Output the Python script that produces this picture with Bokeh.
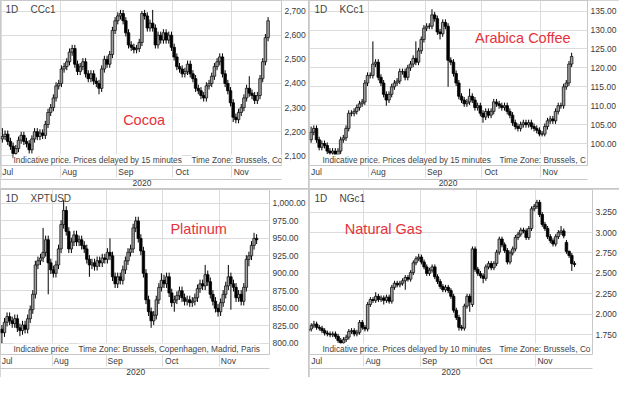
import numpy as np
from bokeh.plotting import figure
from bokeh.models import ColumnDataSource, FixedTicker, LinearAxis, NumeralTickFormatter, Label, Range1d
from bokeh.layouts import row, column
from bokeh.embed import file_html
from bokeh.resources import INLINE

# ---------------- data ----------------
month_names = ["Jul", "Aug", "Sep", "Oct", "Nov"]
futures_month_start = [0, 22, 43, 64, 86]   # trading-day index of first session of each month
spot_month_start = [0, 23, 44, 66, 88]

# Cocoa CCc1 (day 0 .. 99)
cocoa_first_day = 0
cocoa_open = [2170,2180,2190,2160,2140,2110,2130,2165,2185,2160,
              2150,2125,2170,2200,2180,2195,2185,2230,2280,2300,
              2340,2390,2400,2460,2470,2490,2530,2545,2480,2450,
              2470,2490,2440,2420,2440,2410,2400,2380,2460,2500,
              2480,2520,2620,2660,2680,2690,2660,2610,2560,2550,
              2540,2545,2570,2690,2680,2630,2650,2630,2560,2600,
              2580,2610,2580,2600,2550,2510,2470,2460,2440,2450,
              2480,2440,2420,2380,2370,2350,2340,2390,2400,2430,
              2470,2490,2510,2440,2400,2370,2320,2260,2250,2280,
              2300,2340,2380,2360,2350,2330,2350,2420,2490,2590]
cocoa_high = [2215,2205,2205,2175,2155,2145,2180,2200,2200,2175,
              2165,2185,2215,2215,2210,2210,2245,2295,2315,2355,
              2405,2415,2475,2485,2505,2545,2560,2560,2495,2485,
              2505,2505,2455,2455,2455,2425,2415,2475,2515,2515,
              2535,2635,2675,2695,2705,2705,2675,2625,2575,2565,
              2560,2585,2700,2705,2695,2665,2705,2645,2615,2615,
              2625,2625,2615,2615,2565,2525,2485,2475,2465,2495,
              2495,2455,2435,2395,2385,2365,2405,2415,2445,2485,
              2505,2525,2525,2455,2415,2385,2335,2275,2295,2315,
              2355,2395,2430,2375,2365,2365,2435,2505,2605,2675]
cocoa_low = [2155,2165,2145,2125,2090,2095,2115,2150,2145,2135,
             2110,2110,2155,2165,2165,2170,2170,2215,2265,2285,
             2325,2375,2385,2445,2455,2475,2515,2465,2435,2435,
             2455,2425,2405,2405,2395,2385,2355,2365,2445,2465,
             2465,2505,2605,2645,2665,2645,2595,2545,2535,2525,
             2525,2530,2555,2665,2615,2615,2615,2545,2545,2565,
             2565,2565,2565,2535,2495,2455,2445,2425,2425,2435,
             2425,2405,2365,2355,2335,2325,2325,2375,2385,2415,
             2455,2475,2425,2385,2355,2305,2240,2235,2235,2265,
             2285,2325,2345,2335,2315,2315,2335,2405,2475,2575]
cocoa_close = [2180,2190,2160,2140,2110,2130,2165,2185,2160,2150,
               2125,2170,2200,2180,2195,2185,2230,2280,2300,2340,
               2390,2400,2460,2470,2490,2530,2545,2480,2450,2470,
               2490,2440,2420,2440,2410,2400,2380,2460,2500,2480,
               2520,2620,2660,2680,2690,2660,2610,2560,2550,2540,
               2545,2570,2690,2680,2630,2650,2630,2560,2600,2580,
               2610,2580,2600,2550,2510,2470,2460,2440,2450,2480,
               2440,2420,2380,2370,2350,2340,2390,2400,2430,2470,
               2490,2510,2440,2400,2370,2320,2260,2250,2280,2300,
               2340,2380,2360,2350,2330,2350,2420,2490,2590,2660]

# Arabica coffee KCc1 (day 0 .. 97)
coffee_first_day = 0
coffee_open = [101,103,104,101,99,100,99.5,98,97.5,98,
               97,98,101,101.5,104,108,108,108.5,109.5,110.5,
               111,116,118,118,121,121.5,117.5,116,113,111.5,
               113,115,116,116.5,119,119,117.5,120,121,122.5,
               121.5,124.5,127.5,130.5,131,131,134,133,129.5,129,
               132,131,122,121.5,118.5,116,112.5,111.5,110.5,111,
               112.5,111.5,109.5,110,108,107,108.5,107.5,108.5,111,
               110.5,110,109.5,110,108.5,107.5,105.5,104.5,104,105,
               105.5,105,105.5,104.5,104,103.5,102.5,102.5,104.5,106,
               106.5,106,108.5,110,110,115,116,121]
coffee_high = [104.5,104.8,104.8,101.8,100.8,100.8,100.3,98.8,98.8,98.8,
               98.8,101.8,102.3,104.8,108.8,108.8,109.3,110.3,111.3,111.8,
               116.8,118.8,118.8,127,122.3,122.3,118.3,116.8,113.8,113.8,
               115.8,116.8,117.3,119.8,119.8,119.8,120.8,121.8,123.3,127,
               125.3,128.3,131.3,131.8,131.8,135.5,134.8,133.8,130.3,132.8,
               132.8,131.8,122.8,122.3,119.3,116.8,113.3,112.3,111.8,114.5,
               113.3,112.3,110.8,110.8,108.8,109.3,109.3,109.3,111.8,111.8,
               111.3,110.8,110.8,110.8,109.3,108.3,106.3,105.3,105.8,106.3,
               106.3,106.3,106.3,105.3,104.8,104.3,103.3,105.3,106.8,107.3,
               107.3,109.3,110.8,110.8,115.8,116.8,121.8,124]
coffee_low = [100.2,102.2,100.2,98.2,98.2,98.7,97.2,96.7,96.7,96.2,
              96.2,97.2,100.2,100.7,103.2,107.2,107.2,107.7,108.7,109.7,
              110.2,115.2,117.2,117.2,120.2,116.7,115.2,112.2,110,110.7,
              112.2,114.2,115.2,115.7,118.2,116.7,116.7,119.2,120.2,120.7,
              120.7,123.7,126.7,129.7,130.2,130.2,132.2,128.7,127.5,128.2,
              130.2,115,120.7,117.7,115.2,111.7,110.7,109.7,109.7,110.2,
              110.7,108.7,108.7,107.2,105.5,106.2,106.7,106.7,107.7,109.7,
              109.2,108.7,108.7,107.7,106.7,104.7,103.7,103.2,103.2,104.2,
              104.2,104.2,103.7,103.2,102.7,101.9,101.9,101.9,103.7,105.2,
              105.2,105.2,107.7,109.2,109.2,114.2,115.2,120.2]
coffee_close = [103,104,101,99,100,99.5,98,97.5,98,97,
                98,101,101.5,104,108,108,108.5,109.5,110.5,111,
                116,118,118,121,121.5,117.5,116,113,111.5,113,
                115,116,116.5,119,119,117.5,120,121,122.5,121.5,
                124.5,127.5,130.5,131,131,134,133,129.5,129,132,
                131,122,121.5,118.5,116,112.5,111.5,110.5,111,112.5,
                111.5,109.5,110,108,107,108.5,107.5,108.5,111,110.5,
                110,109.5,110,108.5,107.5,105.5,104.5,104,105,105.5,
                105,105.5,104.5,104,103.5,102.5,102.5,104.5,106,106.5,
                106,108.5,110,110,115,116,121,123]

# Platinum XPTUSD (weekday index 3 .. 102)
platinum_first_day = 3
platinum_open = [820,815,830,838,832,828,835,822,818,826,
                 820,835,848,870,912,918,922,930,948,915,
                 905,900,912,935,970,990,960,935,945,955,
                 945,948,940,935,920,912,915,910,918,915,
                 922,920,930,925,895,885,895,890,905,918,
                 930,935,965,975,950,932,900,862,845,832,
                 840,862,880,890,885,895,872,858,862,868,
                 875,865,860,862,858,860,865,878,885,882,
                 898,888,870,860,850,845,858,870,882,895,
                 885,880,865,870,860,880,920,925,940,950]
platinum_high = [826,836,844,844,838,841,841,828,832,832,
                 841,854,876,918,924,928,965,954,954,921,
                 911,918,941,976,1005,996,966,951,961,961,
                 954,954,946,941,926,921,921,924,924,928,
                 928,936,950,931,901,901,901,911,924,936,
                 941,971,981,981,956,938,906,868,851,846,
                 868,886,900,898,901,901,878,868,874,881,
                 881,871,868,868,866,871,884,891,891,912,
                 904,894,876,866,856,864,876,888,912,901,
                 891,886,876,876,886,926,931,946,958,956]
platinum_low = [800,809,824,826,822,822,816,810,812,814,
                814,829,842,864,906,912,916,924,870,899,
                894,894,906,929,964,954,929,929,939,939,
                939,934,929,914,895,906,904,904,909,909,
                914,914,919,889,879,879,884,884,899,912,
                924,929,959,944,926,894,856,839,822,826,
                834,856,874,879,879,866,852,845,856,862,
                859,854,854,852,852,854,859,872,876,876,
                882,864,854,844,838,839,852,864,876,848,
                874,859,859,854,854,874,910,919,934,942]
platinum_close = [815,830,838,832,828,835,822,818,826,820,
                  835,848,870,912,918,922,930,948,915,905,
                  900,912,935,970,990,960,935,945,955,945,
                  948,940,935,920,912,915,910,918,915,922,
                  920,930,925,895,885,895,890,905,918,930,
                  935,965,975,950,932,900,862,845,832,840,
                  862,880,890,885,895,872,858,862,868,875,
                  865,860,862,858,860,865,878,885,882,898,
                  888,870,860,850,845,858,870,882,895,885,
                  880,865,870,860,880,920,925,940,950,948]

# Natural gas NGc1 (day 1 .. 100)
gas_first_day = 1
gas_open = [1.80,1.82,1.86,1.88,1.84,1.83,1.80,1.77,1.76,1.75,
            1.76,1.73,1.68,1.65,1.69,1.72,1.79,1.80,1.76,1.78,
            1.90,1.84,1.82,2.12,2.18,2.17,2.22,2.18,2.20,2.17,
            2.21,2.16,2.33,2.38,2.36,2.38,2.41,2.45,2.43,2.51,
            2.63,2.68,2.70,2.64,2.58,2.50,2.54,2.58,2.46,2.40,
            2.34,2.30,2.33,2.29,2.22,2.05,1.96,1.84,1.83,2.10,
            2.22,2.12,2.80,2.55,2.50,2.47,2.44,2.58,2.62,2.57,
            2.62,2.76,2.92,2.85,2.78,2.64,2.75,2.80,2.94,2.98,
            3.03,3.02,2.94,3.05,3.29,3.32,3.37,3.22,3.10,3.05,
            2.95,2.90,2.86,2.95,3.00,3.02,2.88,2.77,2.72,2.62]
gas_high = [1.85,1.89,1.92,1.91,1.87,1.86,1.83,1.80,1.79,1.79,
            1.79,1.76,1.71,1.72,1.75,1.82,1.83,1.83,1.81,1.93,
            1.93,1.87,2.15,2.21,2.21,2.27,2.25,2.23,2.23,2.24,
            2.24,2.36,2.41,2.41,2.41,2.44,2.48,2.48,2.54,2.66,
            2.71,2.74,2.73,2.67,2.61,2.57,2.61,2.61,2.49,2.43,
            2.37,2.36,2.36,2.32,2.25,2.08,1.99,1.87,2.13,2.25,
            2.25,2.83,2.83,2.58,2.53,2.50,2.61,2.65,2.65,2.65,
            2.79,2.95,2.95,2.88,2.81,2.78,2.83,2.97,3.01,3.06,
            3.06,3.05,3.08,3.32,3.35,3.40,3.40,3.25,3.13,3.08,
            2.98,2.93,2.98,3.03,3.08,3.05,2.91,2.78,2.75,2.65]
gas_low = [1.77,1.79,1.83,1.81,1.80,1.77,1.74,1.73,1.72,1.72,
           1.70,1.65,1.62,1.62,1.66,1.69,1.76,1.73,1.73,1.75,
           1.81,1.79,1.79,2.09,2.14,2.14,2.15,2.15,2.12,2.14,
           2.13,2.13,2.30,2.33,2.33,2.35,2.30,2.40,2.40,2.48,
           2.60,2.65,2.61,2.55,2.47,2.47,2.51,2.43,2.37,2.31,
           2.27,2.27,2.26,2.19,2.02,1.93,1.80,1.80,1.80,2.07,
           2.03,2.09,2.52,2.47,2.44,2.38,2.41,2.55,2.54,2.54,
           2.59,2.73,2.82,2.75,2.61,2.61,2.72,2.77,2.91,2.95,
           2.99,2.91,2.91,3.02,3.26,3.29,3.19,3.07,3.02,2.92,
           2.87,2.83,2.83,2.92,2.97,2.93,2.74,2.69,2.53,2.58]
gas_close = [1.82,1.86,1.88,1.84,1.83,1.80,1.77,1.76,1.75,1.76,
             1.73,1.68,1.65,1.69,1.72,1.79,1.80,1.76,1.78,1.90,
             1.84,1.82,2.12,2.18,2.17,2.22,2.18,2.20,2.17,2.21,
             2.16,2.33,2.38,2.36,2.38,2.41,2.45,2.43,2.51,2.63,
             2.68,2.70,2.64,2.58,2.50,2.54,2.58,2.46,2.40,2.34,
             2.30,2.33,2.29,2.22,2.05,1.96,1.84,1.83,2.10,2.22,
             2.15,2.80,2.55,2.50,2.47,2.44,2.58,2.62,2.57,2.62,
             2.76,2.92,2.85,2.78,2.64,2.75,2.80,2.94,2.98,3.03,
             3.02,2.94,3.05,3.29,3.32,3.37,3.22,3.10,3.05,2.95,
             2.90,2.86,2.95,3.00,3.02,2.96,2.77,2.72,2.62,2.61]

cocoa_ticks = [2100, 2200, 2300, 2400, 2500, 2600, 2700]
coffee_ticks = [100, 105, 110, 115, 120, 125, 130, 135]
platinum_ticks = [800, 825, 850, 875, 900, 925, 950, 975, 1000]
gas_ticks = [1.75, 2.0, 2.25, 2.5, 2.75, 3.0, 3.25]

# ---------------- styling ----------------
FONT = "Liberation Sans"
GRID = "#dcdcdc"
EDGE = "#c8c8c8"
RED = "#e5323b"
TXT = "#3a3a3a"
UP_FILL = "#a0a0a0"


def panel(width, height, first_day, o, h, l, c, xr, yr, yticks, yfmt,
          month_start, first_label_tick, symbol, name, name_xy,
          note_left, note_right, note_right_offset):
    p = figure(width=width, height=height, x_range=Range1d(*xr), y_range=Range1d(*yr),
               y_axis_location="right", output_backend="svg", toolbar_location=None,
               min_border=0, min_border_left=0, min_border_right=0, min_border_top=0,
               min_border_bottom=0, background_fill_color="white", border_fill_color="white",
               outline_line_color=EDGE)

    grid_ticks = [m - 0.5 for m in month_start]
    label_ticks = [first_label_tick] + [m + 3 for m in month_start[1:]]

    # month axis (minor ticks extend the month gridlines through the label row)
    ax = p.xaxis[0]
    ax.ticker = FixedTicker(ticks=label_ticks, minor_ticks=grid_ticks)
    ax.major_label_overrides = {t: n for t, n in zip(label_ticks, month_names)}
    ax.major_tick_out = 0
    ax.major_tick_in = 0
    ax.minor_tick_in = 0
    ax.minor_tick_out = 12
    ax.minor_tick_line_color = GRID
    ax.axis_line_color = None
    ax.major_label_standoff = -11
    ax.major_label_text_font = FONT
    ax.major_label_text_font_size = "8.5px"
    ax.major_label_text_color = TXT

    # year axis
    mid = int(round((xr[0] + xr[1]) / 2))
    yax = LinearAxis(ticker=FixedTicker(ticks=[mid]), major_label_overrides={mid: "2020"},
                     axis_line_color=EDGE, major_tick_out=0, major_tick_in=0,
                     minor_tick_out=0, minor_tick_in=0, major_label_standoff=0,
                     major_label_text_font=FONT, major_label_text_font_size="8.5px",
                     major_label_text_color=TXT)
    p.add_layout(yax, "below")

    # price axis
    py = p.yaxis[0]
    py.ticker = FixedTicker(ticks=yticks)
    py.formatter = NumeralTickFormatter(format=yfmt)
    py.major_tick_out = 0
    py.major_tick_in = 0
    py.minor_tick_out = 0
    py.minor_tick_in = 0
    py.axis_line_color = None
    py.major_label_standoff = 3
    py.major_label_text_font = FONT
    py.major_label_text_font_size = "8.5px"
    py.major_label_text_color = TXT

    p.xgrid.ticker = FixedTicker(ticks=grid_ticks)
    p.xgrid.grid_line_color = GRID
    p.ygrid.grid_line_color = GRID

    # candles
    x = np.arange(first_day, first_day + len(c))
    o, h, l, c = (np.asarray(a, dtype=float) for a in (o, h, l, c))
    up = c >= o
    p.segment(x0=x, y0=l, x1=x, y1=h, line_color="black", line_width=1)
    src_up = ColumnDataSource(dict(x=x[up], top=c[up], bottom=o[up]))
    src_dn = ColumnDataSource(dict(x=x[~up], top=o[~up], bottom=c[~up]))
    p.vbar(x="x", width=0.95, top="top", bottom="bottom", source=src_up,
           fill_color=UP_FILL, line_color="#111111", line_width=0.8)
    p.vbar(x="x", width=0.95, top="top", bottom="bottom", source=src_dn,
           fill_color="black", line_color="black", line_width=0.8)

    # header texts
    p.add_layout(Label(x=xr[0], y=yr[1], x_offset=5, y_offset=-3, text="1D",
                       text_baseline="top", text_font=FONT, text_font_size="10px",
                       text_color="#444444"))
    p.add_layout(Label(x=xr[0], y=yr[1], x_offset=30, y_offset=-3, text=symbol,
                       text_baseline="top", text_font=FONT, text_font_size="10px",
                       text_color="#444444"))
    # commodity name
    p.add_layout(Label(x=name_xy[0], y=name_xy[1], text=name, text_baseline="middle",
                       text_font=FONT, text_font_size="14.5px", text_color=RED))
    # footer notes
    p.add_layout(Label(x=xr[0], y=yr[0], x_offset=13, y_offset=1, text=note_left,
                       text_baseline="bottom", text_font=FONT, text_font_size="8.3px",
                       text_color="#444444", background_fill_color="white"))
    p.add_layout(Label(x=xr[0], y=yr[0], x_offset=note_right_offset, y_offset=1,
                       text=note_right, text_baseline="bottom", text_font=FONT,
                       text_font_size="8.3px", text_color="#444444",
                       background_fill_color="white"))
    return p


p1 = panel(308, 188, cocoa_first_day, cocoa_open, cocoa_high, cocoa_low, cocoa_close,
           (-0.7, 104.0), (2060, 2744), cocoa_ticks, "0,0",
           futures_month_start, 2, "CCc1", "Cocoa", (45, 2250),
           "Indicative price. Prices delayed by 15 minutes", "Time Zone: Brussels, Co", 191)
p2 = panel(310, 188, coffee_first_day, coffee_open, coffee_high, coffee_low, coffee_close,
           (-0.6, 102.9), (94.2, 137.8), coffee_ticks, "0.00",
           futures_month_start, 2, "KCc1", "Arabica Coffee", (61, 127.9),
           "Indicative price. Prices delayed by 15 minutes", "Time Zone: Brussels, C", 190)
p3 = panel(308, 188, platinum_first_day, platinum_open, platinum_high, platinum_low, platinum_close,
           (2.45, 107.0), (783.8, 1020.0), platinum_ticks, "0,0.00",
           spot_month_start, 5, "XPTUSD", "Platinum", (68.5, 963.5),
           "Indicative price", "Time Zone: Brussels, Copenhagen, Madrid, Paris", 78)
p4 = panel(310, 188, gas_first_day, gas_open, gas_high, gas_low, gas_close,
           (1.35, 106.7), (1.508, 3.527), gas_ticks, "0.000",
           futures_month_start, 4, "NGc1", "Natural Gas", (14.5, 3.042),
           "Indicative price. Prices delayed by 10 minutes", "Time Zone: Brussels, Co", 190)

bg = {"background-color": EDGE}
layout = column(row(p1, p2, spacing=1, styles=bg), row(p3, p4, spacing=1, styles=bg),
                spacing=1, styles=bg)

open("out.html", "w").write(file_html(layout, INLINE))
